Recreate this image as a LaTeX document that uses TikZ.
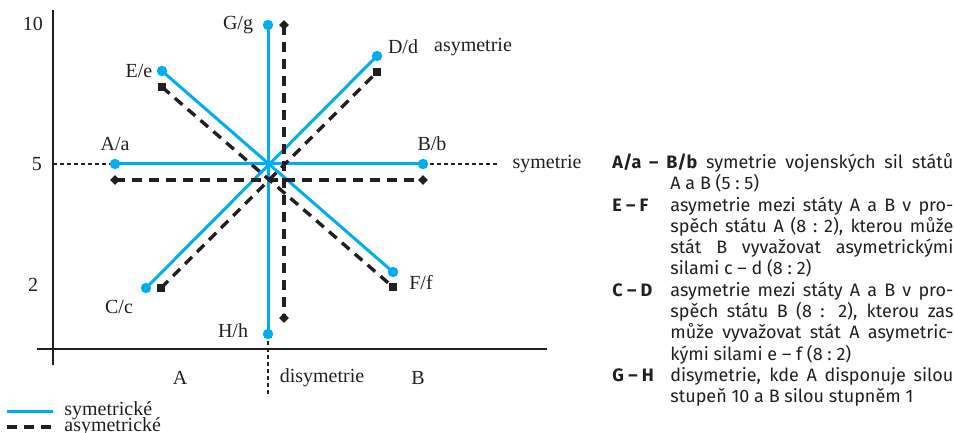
\documentclass[tikz,border=0pt]{standalone}
\usepackage{fontspec}
\setmainfont{Liberation Serif}
\newfontfamily\notefont{Fira Sans}
\usetikzlibrary{positioning}
\definecolor{SymBlue}{HTML}{00AEEF}
\definecolor{AsymBlack}{HTML}{231F20}

\begin{document}
\begin{tikzpicture}[x=0.5pt,y=-0.5pt,
    symline/.style={SymBlue, line width=1.5pt},
    asymline/.style={AsymBlack, line width=1.7pt, dash pattern=on 5pt off 3.5pt},
    guideline/.style={AsymBlack, line width=0.7pt, dash pattern=on 2pt off 1.5pt},
    dotpt/.style={circle, fill=SymBlue, inner sep=0pt, minimum size=5.2pt},
    sqpt/.style={rectangle, fill=AsymBlack, inner sep=0pt, minimum size=3.8pt},
    dmpt/.style={sqpt, minimum size=3.5pt, rotate=45},
    lab/.style={font=\fontsize{10}{12}\selectfont, text=AsymBlack, inner sep=0pt},
    notetext/.style={font=\notefont\fontsize{9}{10.65}\selectfont, text=AsymBlack,
      text width=170.5pt, align=justify, inner sep=0pt}]
  \useasboundingbox (0,0) rectangle (954,433);

  % axes
  \coordinate (ytop) at (53,10);
  \coordinate (ybot) at (53,365);
  \coordinate (xleft) at (37,349);
  \coordinate (xright) at (547,349);
  \draw[AsymBlack, line width=0.6pt] (ytop) -- (ybot);
  \draw[AsymBlack, line width=0.6pt] (xleft) -- (xright);

  % symmetric end points
  \coordinate (Ab) at (115,164);
  \coordinate (Bb) at (423,164);
  \coordinate (Gb) at (268,25);
  \coordinate (Hb) at (268,334);
  \coordinate (Eb) at (162,71);
  \coordinate (Fb) at (393,272);
  \coordinate (Cb) at (146,288);
  \coordinate (Db) at (377,56);
  % asymmetric end points
  \coordinate (Ak) at (115,180);
  \coordinate (Bk) at (423,180);
  \coordinate (Gk) at (284,25);
  \coordinate (Hk) at (284,318);
  \coordinate (Ek) at (162,87);
  \coordinate (Fk) at (393,287);
  \coordinate (Ck) at (161,288);
  \coordinate (Dk) at (377,72);
  % guide ends
  \coordinate (symL) at (53,164);
  \coordinate (symR) at (498,164);
  \coordinate (disB) at (268,397);

  \draw[guideline] (symL) -- (Ab);
  \draw[guideline] (Bb) -- (symR);
  \draw[guideline] (Hb) -- (disB);

  \foreach \p/\q in {Ab/Bb,Gb/Hb,Eb/Fb,Cb/Db}
    \draw[symline] (\p) -- (\q);
  \foreach \p/\q in {Ak/Bk,Gk/Hk,Ek/Fk,Ck/Dk}
    \draw[asymline] (\p) -- (\q);

  \foreach \p in {Ab,Bb,Gb,Hb,Eb,Fb,Cb,Db}
    \node[dotpt] (\p-dot) at (\p) {};
  \foreach \p in {Ek,Fk,Ck,Dk}
    \node[sqpt] (\p-mark) at (\p) {};
  \foreach \p in {Ak,Bk,Gk,Hk}
    \node[dmpt] (\p-mark) at (\p) {};

  % scale values
  \node[lab] (v10) at (33,24) {10};
  \node[lab] (v5) at (37,164) {5};
  \node[lab] (v2) at (33,285) {2};

  % point labels
  \node[lab] (lG) at (238,25) {G/g};
  \node[lab] (lE) at (139,71) {E/e};
  \node[lab] (lA) at (115,144) {A/a};
  \node[lab] (lB) at (432,144) {B/b};
  \node[lab] (lD) at (403,47) {D/d};
  \node[lab] (lasym) at (473,47) {asymetrie};
  \node[lab] (lsym) at (547,164) {symetrie};
  \node[lab] (lC) at (119,307) {C/c};
  \node[lab] (lH) at (233,331) {H/h};
  \node[lab] (lF) at (421,283) {F/f};
  \node[lab] (sideA) at (180,378) {A};
  \node[lab] (ldis) at (322,378) {disymetrie};
  \node[lab] (sideB) at (418,378) {B};

  % legend
  \coordinate (legS1) at (7,411);
  \coordinate (legS2) at (53,411);
  \coordinate (legA1) at (7,427);
  \coordinate (legA2) at (53,427);
  \draw[symline] (legS1) -- (legS2);
  \draw[asymline] (legA1) -- (legA2);
  \node[lab, anchor=base west] (legsym) at (64,415) {symetrické};
  \node[lab, anchor=base west] (legasym) at (64,431) {asymetrické};

  % explanations
  \node[notetext, anchor=north west] (notes) at (612,153) {%
    \hangindent=29pt\hangafter=1\noindent
    \textbf{A/a – B/b} symetrie vojenských sil států\linebreak
    A a B (5~:~5)\par
    \hangindent=29pt\hangafter=1\noindent
    \makebox[29pt][l]{\textbf{E – F}}asymetrie mezi státy A a B v pro-\linebreak
    spěch státu A (8~:~2), kterou může\linebreak
    stát B vyvažovat asymetrickými\linebreak
    silami c – d (8~:~2)\par
    \hangindent=29pt\hangafter=1\noindent
    \makebox[29pt][l]{\textbf{C – D}}asymetrie mezi státy A a B v pro-\linebreak
    spěch státu B (8 : 2), kterou zas\linebreak
    může vyvažovat stát A asymetric-\linebreak
    kými silami e – f (8~:~2)\par
    \hangindent=29pt\hangafter=1\noindent
    \makebox[29pt][l]{\textbf{G – H}}disymetrie, kde A disponuje silou\linebreak
    stupeň 10 a B silou stupněm 1\par};
\end{tikzpicture}
\end{document}
